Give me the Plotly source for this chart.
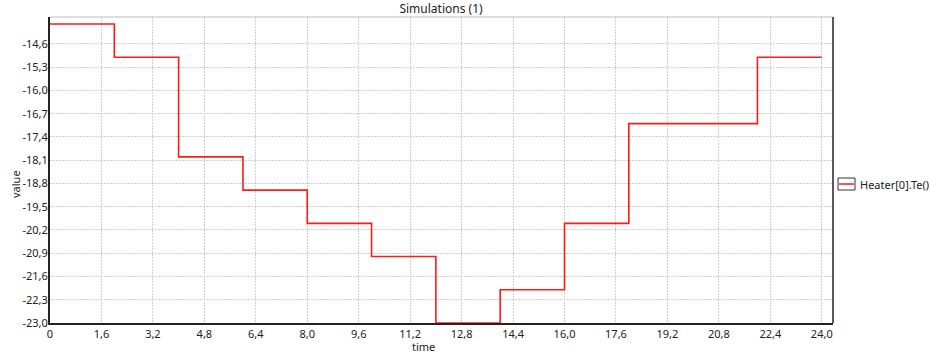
import plotly.graph_objects as go

# Hourly outdoor temperature set-points for the heater model
hours = [0, 2, 4, 6, 8, 10, 12, 14, 16, 18, 22, 24]
temps = [-14.0, -15.0, -18.0, -19.0, -20.0, -21.0, -23.0, -22.0, -20.0, -17.0, -15.0, -15.0]

x_ticks = [0, 1.6, 3.2, 4.8, 6.4, 8.0, 9.6, 11.2, 12.8, 14.4, 16.0, 17.6, 19.2, 20.8, 22.4, 24.0]
x_tick_text = ["0", "1,6", "3,2", "4,8", "6,4", "8,0", "9,6", "11,2", "12,8", "14,4",
               "16,0", "17,6", "19,2", "20,8", "22,4", "24,0"]
y_ticks = [-23.0, -22.3, -21.6, -20.9, -20.2, -19.5, -18.8, -18.1, -17.4, -16.7,
           -16.0, -15.3, -14.6]
# labels with plain hyphen minus and decimal comma
y_tick_text = [f"{v:.1f}".replace(".", ",") for v in y_ticks]

font = dict(family="Noto Sans", size=11, color="#222")
W, H = 930, 354
L, R, T, B = 50, 97, 17, 31
PW, PH = W - L - R, H - T - B


def px(xp):
    return (xp - L) / PW


def py(yp):
    return (H - B - yp) / PH


fig = go.Figure()
fig.add_trace(go.Scatter(
    x=hours, y=temps, mode="lines", line=dict(shape="hv", color="#ff1a1a", width=1.6),
    name="Heater[0].Te()", showlegend=False,
))

grid = dict(showgrid=True, gridcolor="#cfcfcf", griddash="2px,1px", gridwidth=1)

fig.update_layout(
    width=W, height=H,
    margin=dict(l=L, r=R, t=T, b=B),
    paper_bgcolor="white", plot_bgcolor="white",
    font=font,
    title=dict(text="Simulations (1)", x=441 / W, xanchor="center", y=1 - 9 / H,
               yanchor="middle", font=dict(family="Noto Sans", size=12, color="#222")),
    xaxis=dict(
        range=[0, 24.35], tickvals=x_ticks, ticktext=x_tick_text, automargin=False,
        showline=True, linecolor="#222", linewidth=2, zeroline=False,
        ticks="", tickfont=font, **grid,
    ),
    yaxis=dict(
        range=[-23.0, -13.79], tickvals=y_ticks, ticktext=y_tick_text, automargin=False,
        showline=True, linecolor="#222", linewidth=2, zeroline=False,
        ticks="", tickfont=font, ticklabelstandoff=-2, **grid,
    ),
    shapes=[
        # frame: light top edge, dark right edge
        dict(type="line", xref="paper", yref="paper", x0=0, x1=1, y0=1, y1=1,
             line=dict(color="#bdbdbd", width=1)),
        dict(type="line", xref="paper", yref="paper", x0=1, x1=1, y0=0, y1=1,
             line=dict(color="#222", width=1.5)),
        # legend swatch
        dict(type="rect", xref="paper", yref="paper",
             x0=px(838), x1=px(855), y0=py(190), y1=py(178),
             line=dict(color="#333", width=1), fillcolor="white"),
        dict(type="line", xref="paper", yref="paper",
             x0=px(839), x1=px(854), y0=py(184), y1=py(184),
             line=dict(color="#ff1a1a", width=1.5)),
    ],
    annotations=[
        dict(text="Heater[0].Te()", xref="paper", yref="paper",
             x=px(858), y=py(184), xanchor="left", yanchor="middle",
             showarrow=False, font=font),
        dict(text="value", xref="paper", yref="paper", textangle=-90,
             x=px(15), y=py(184), xanchor="center", yanchor="middle",
             showarrow=False, font=font),
        dict(text="time", xref="paper", yref="paper",
             x=px(423), y=py(346), xanchor="center", yanchor="middle",
             showarrow=False, font=font),
    ],
)

fig.write_html("out.html")
